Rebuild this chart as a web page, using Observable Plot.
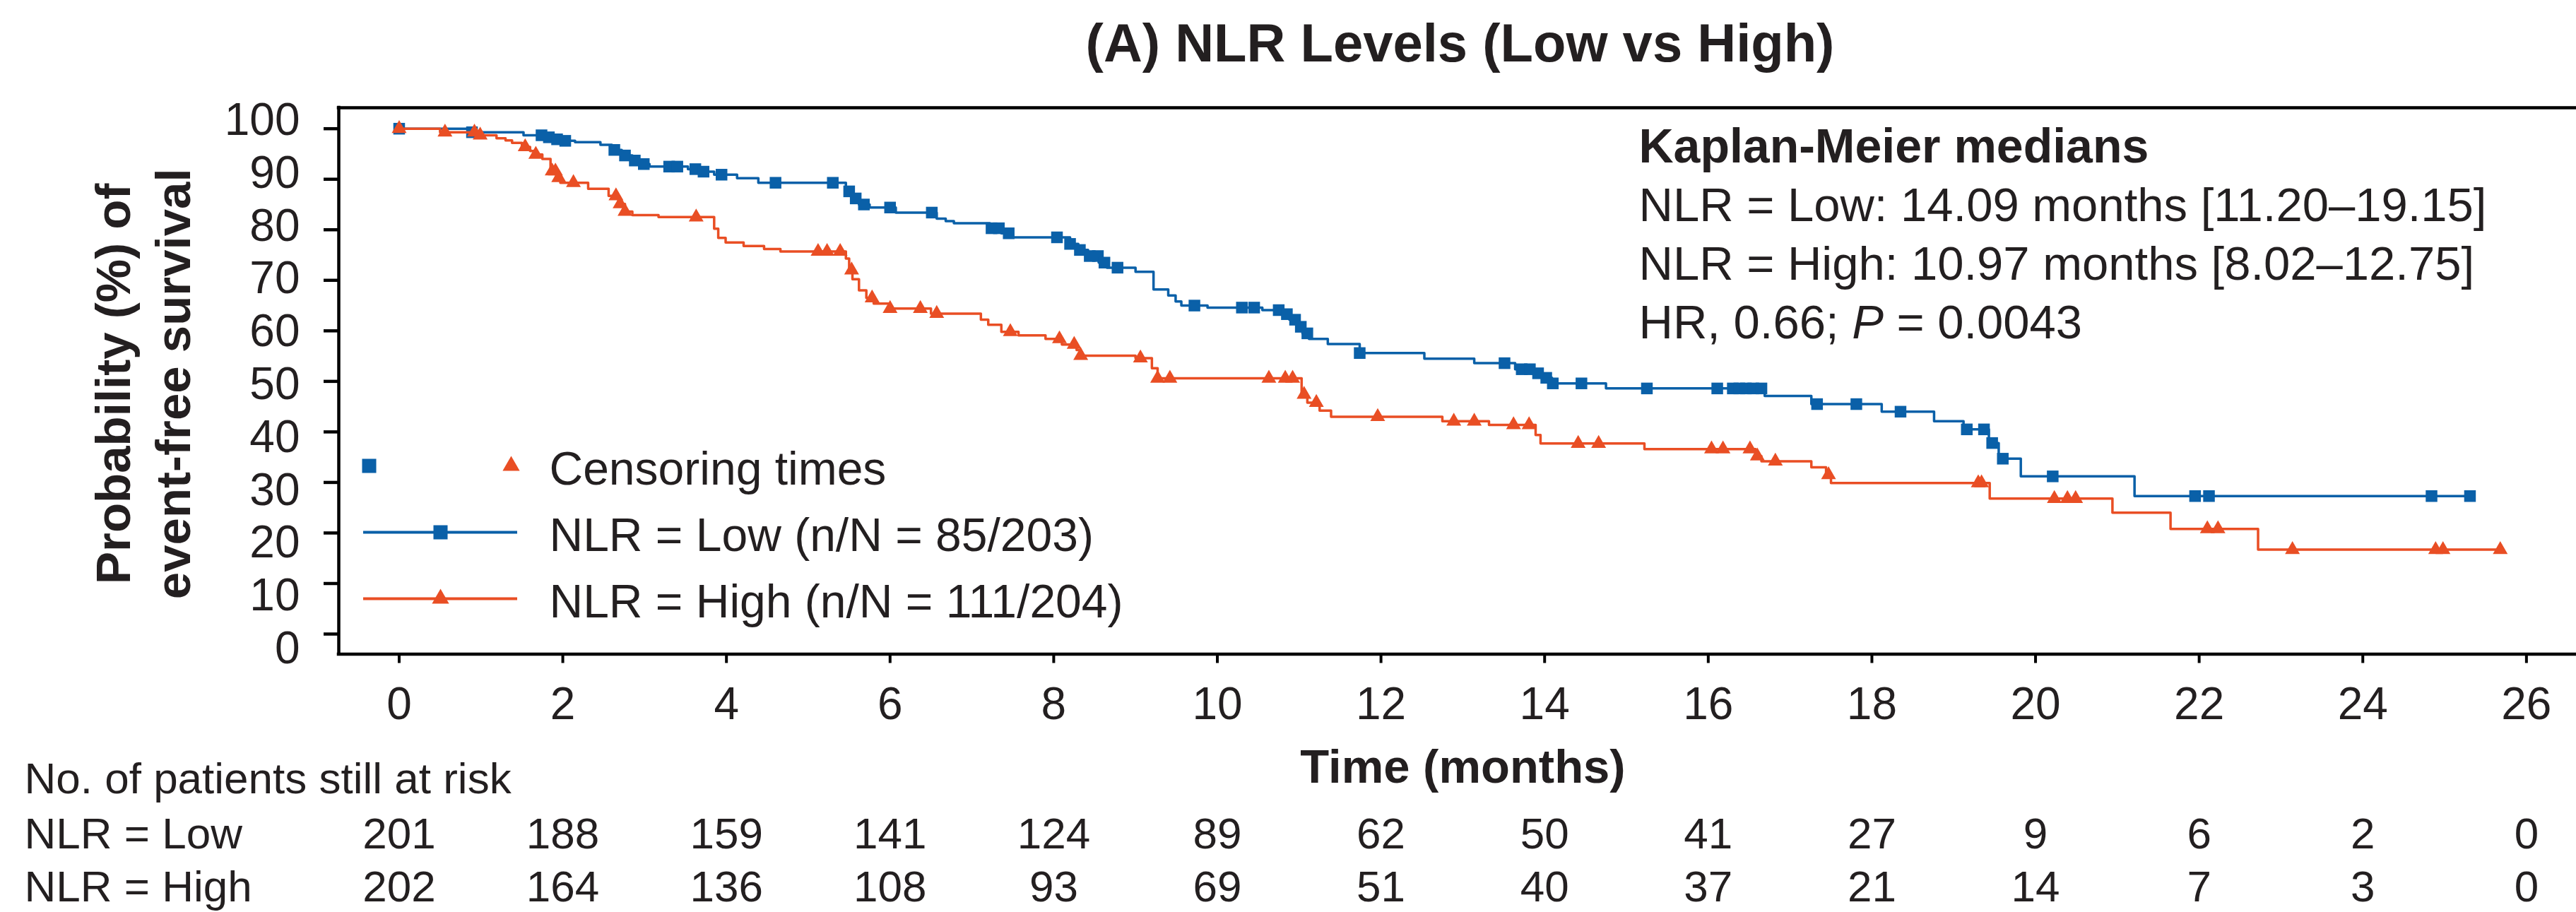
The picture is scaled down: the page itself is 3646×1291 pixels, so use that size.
<!DOCTYPE html>
<html>
<head>
<meta charset="utf-8">
<script src="https://cdn.jsdelivr.net/npm/d3@7"></script>
<script src="https://cdn.jsdelivr.net/npm/@observablehq/plot@0.6"></script>
<style>
  html, body { margin: 0; padding: 0; background: #ffffff; }
  #chart { position: relative; width: 3646px; height: 1291px; overflow: hidden; background: #ffffff; }
  #chart svg { position: absolute; left: 0; top: 0; }
</style>
</head>
<body>
<div id="chart"></div>
<script>
// ---------------- data ----------------
const titleText = "(A) NLR Levels (Low vs High)";
const xLabel = "Time (months)";
const yTitleLines = ["Probability (%) of", "event-free survival"];

const timeTicks = [0, 2, 4, 6, 8, 10, 12, 14, 16, 18, 20, 22, 24, 26];
const probTicks = [0, 10, 20, 30, 40, 50, 60, 70, 80, 90, 100];

// Kaplan-Meier step curve, NLR = Low (time in months, survival %)
const lowTime = [0, 0.85, 1.52, 1.75, 1.87, 2.0, 2.15, 2.46, 2.6, 2.72, 2.85, 2.97, 3.06, 3.53, 3.65, 3.85,
  4.13, 4.39, 5.46, 5.53, 5.62, 5.75, 6.07, 6.57, 6.68, 6.78, 7.22, 7.36, 7.5, 8.2, 8.3, 8.42, 8.55, 8.65,
  9.0, 9.22, 9.4, 9.49, 9.56, 9.88, 10.55, 10.78, 10.88, 10.97, 11.04, 11.12, 11.35, 11.74, 12.53, 13.14,
  13.64, 13.83, 13.98, 14.09, 14.75, 16.69, 17.26, 18.12, 18.76, 19.12, 19.43, 19.55, 19.82, 21.21, 25.31];
const lowSurv = [100, 99.3, 98.7, 98.3, 97.9, 97.6, 97.35, 96.8, 95.8, 94.7, 93.7, 93.0, 92.5, 92.0, 91.5, 90.9,
  90.2, 89.3, 87.6, 86.2, 85.0, 84.4, 83.4, 82.2, 81.7, 81.3, 80.3, 79.3, 78.5, 77.2, 76.0, 74.8, 73.5, 72.5,
  71.7, 68.2, 67.0, 65.8, 65.0, 64.6, 64.1, 63.3, 62.2, 60.8, 59.5, 58.4, 57.4, 55.6, 54.5, 53.6,
  52.4, 51.6, 50.7, 49.6, 48.6, 47.1, 45.5, 44.0, 42.1, 40.5, 37.8, 34.7, 31.2, 27.3, 27.3];
const lowCensor = [0, 0.89, 1.74, 1.83, 1.93, 2.03, 2.63, 2.76, 2.88, 2.99, 3.3, 3.4, 3.62, 3.72, 3.94, 4.6,
  5.3, 5.5, 5.58, 5.68, 6.0, 6.51, 7.24, 7.33, 7.45, 8.04, 8.2, 8.32, 8.44, 8.54, 8.62, 8.78, 9.72, 10.3,
  10.45, 10.75, 10.85, 10.95, 11.02, 11.1, 11.74, 13.51, 13.72, 13.82, 13.92, 14.02, 14.1, 14.45, 15.25,
  16.11, 16.3, 16.38, 16.46, 16.55, 16.65, 17.33, 17.81, 18.35, 19.16, 19.37, 19.47, 19.6, 20.21, 21.95,
  22.12, 24.84, 25.31];

// Kaplan-Meier step curve, NLR = High
const highTime = [0, 0.5, 0.95, 1.19, 1.3, 1.38, 1.5, 1.6, 1.67, 1.75, 1.85, 1.92, 1.97, 2.31, 2.56, 2.68,
  2.76, 2.85, 3.17, 3.85, 3.9, 3.99, 4.21, 4.46, 4.66, 5.46, 5.5, 5.54, 5.62, 5.71, 5.8, 6.0, 6.5, 7.11,
  7.2, 7.36, 7.57, 7.9, 8.1, 8.28, 8.33, 9.0, 9.2, 9.27, 11.03, 11.1, 11.25, 11.39, 12.75, 13.32, 13.89,
  13.95, 15.22, 16.58, 16.65, 17.26, 17.44, 17.5, 19.44, 20.94, 21.65, 22.72, 25.68];
const highSurv = [100, 99.3, 98.7, 98.1, 97.7, 97.2, 96.4, 95.6, 94.9, 94.0, 91.6, 90.3, 89.3, 88.1, 86.7, 85.1,
  83.6, 82.9, 82.5, 80.2, 78.4, 77.5, 76.8, 76.2, 75.7, 74.3, 72.0, 70.2, 68.0, 66.5, 65.4, 64.4, 63.4, 62.2,
  61.2, 59.8, 59.1, 58.4, 57.3, 56.2, 55.1, 54.6, 52.6, 50.6, 47.4, 45.8, 44.2, 43.0, 42.1, 41.4, 39.4,
  37.7, 36.6, 35.2, 34.2, 33.0, 31.5, 29.9, 26.8, 24.0, 20.8, 16.7, 16.7];
const highCensor = [0, 0.56, 0.92, 0.99, 1.54, 1.67, 1.87, 1.91, 1.95, 2.13, 2.65, 2.7, 2.76, 3.63, 5.12,
  5.23, 5.39, 5.53, 5.78, 6.0, 6.37, 6.57, 7.47, 8.07, 8.25, 8.33, 9.06, 9.27, 9.42, 10.63, 10.83, 10.92,
  11.06, 11.21, 11.96, 12.89, 13.14, 13.62, 13.81, 14.41, 14.66, 16.04, 16.18, 16.51, 16.6, 16.82, 17.47,
  19.3, 19.34, 20.23, 20.39, 20.49, 22.1, 22.23, 23.14, 24.89, 24.98, 25.68];

// Numbers at risk
const riskHeader = "No. of patients still at risk";
const riskLabels = ["NLR = Low", "NLR = High"];
const atRiskLow = [201, 188, 159, 141, 124, 89, 62, 50, 41, 27, 9, 6, 2, 0];
const atRiskHigh = [202, 164, 136, 108, 93, 69, 51, 40, 37, 21, 14, 7, 3, 0];

// Annotation
const annotLines = [
  "Kaplan-Meier medians",
  "NLR = Low: 14.09 months [11.20\u201319.15]",
  "NLR = High: 10.97 months [8.02\u201312.75]",
  "HR, 0.66; P = 0.0043"
];

// Legend
const legendKeys = ["censor", "low", "high"];
const legendLabels = ["Censoring times", "NLR = Low (n/N = 85/203)", "NLR = High (n/N = 111/204)"];

// ---------------- styling ----------------
const FONT = '"Liberation Sans", Arial, Helvetica, sans-serif';
const INK = "#231f20";
const BLUE = "#0a60a8";
const RED = "#e94e24";
const W = 3646, H = 1291;
const xDom = [-0.738, 26.61];
const yDom = [-3.98, 104.15];
const M = {left: 479, right: 0, top: 152, bottom: H - 925.5};

// ---------------- helpers ----------------
function stepValue(times, surv, t) {
  let v = surv[0];
  for (let i = 0; i < times.length; i++) {
    if (times[i] <= t + 1e-9) v = surv[i]; else break;
  }
  return v;
}
const lowCurve = lowTime.map((t, i) => ({t, s: lowSurv[i]}));
const highCurve = highTime.map((t, i) => ({t, s: highSurv[i]}));
const lowCens = lowCensor.map(t => ({t, s: stepValue(lowTime, lowSurv, t)}));
const highCens = highCensor.map(t => ({t, s: stepValue(highTime, highSurv, t)}));
const riskTable = [atRiskLow, atRiskHigh].map(counts => timeTicks.map((t, j) => ({t, n: counts[j]})));

// ---------------- main chart ----------------
const main = Plot.plot({
  width: W, height: H,
  marginLeft: M.left, marginRight: M.right, marginTop: M.top, marginBottom: M.bottom,
  style: {fontFamily: FONT, color: INK, background: "transparent", overflow: "visible"},
  x: {domain: xDom},
  y: {domain: yDom},
  marks: [
    // frame (left, bottom, top)
    Plot.ruleX([xDom[0]], {stroke: "#000", strokeWidth: 4.5, strokeLinecap: "square"}),
    Plot.ruleY([yDom[0], yDom[1]], {stroke: "#000", strokeWidth: 4.5, strokeLinecap: "square"}),
    // axes
    Plot.axisX(timeTicks, {tickSize: 13, tickPadding: 34, stroke: "#000", strokeWidth: 4, fill: INK, fontSize: 64,
      tickFormat: d => String(d), label: null}),
    Plot.axisY(probTicks, {tickSize: 21, stroke: "#000", strokeWidth: 4.5, fill: "none", label: null}),
    Plot.text(probTicks, {y: d => d * 1.0457 - 2.94, text: d => String(d), frameAnchor: "left", dx: -55,
      textAnchor: "end", lineAnchor: "middle", fontSize: 64, fill: INK}),
    // y title
    ...yTitleLines.map((line, i) => Plot.text([line], {text: d => d, frameAnchor: "left", dx: -296 + i * 85, dy: 4,
      rotate: -90, textAnchor: "middle", lineAnchor: "bottom", fontSize: 69, fontWeight: "bold", fill: INK})),
    // x title
    Plot.text([xLabel], {text: d => d, frameAnchor: "bottom", dx: 7.5, dy: 181.5, lineAnchor: "bottom",
      fontSize: 67, fontWeight: "bold", fill: INK}),
    // chart title
    Plot.text([titleText], {text: d => d, frameAnchor: "top", dx: 3.5, dy: -66, lineAnchor: "bottom",
      fontSize: 76, fontWeight: "bold", fill: INK}),
    // curves and censor marks
    Plot.line(lowCurve, {x: "t", y: "s", curve: "step-after", stroke: BLUE, strokeWidth: 3.5}),
    Plot.dot(lowCens, {x: "t", y: "s", symbol: "square", r: 9.3, fill: BLUE}),
    Plot.line(highCurve, {x: "t", y: "s", curve: "step-after", stroke: RED, strokeWidth: 3.5}),
    Plot.dot(highCens, {x: "t", y: "s", symbol: "triangle", r: 7.8, fill: RED}),
    // annotation
    ...annotLines.map((line, i) => Plot.text([line], {text: d => d, frameAnchor: "top-left", dx: 1840, dy: 77 + i * 83,
      textAnchor: "start", lineAnchor: "bottom", fontSize: i === 0 ? 68 : 67, fontWeight: i === 0 ? "bold" : "normal", fill: INK})),
    // numbers at risk
    Plot.text([riskHeader], {text: d => d, frameAnchor: "bottom-left", dx: -445, dy: 196.5, textAnchor: "start",
      lineAnchor: "bottom", fontSize: 62, fill: INK}),
    ...riskLabels.map((lab, i) => Plot.text([lab], {text: d => d, frameAnchor: "bottom-left", dx: -445, dy: 275 + i * 74.5,
      textAnchor: "start", lineAnchor: "bottom", fontSize: 62, fill: INK})),
    ...riskTable.map((row, i) => Plot.text(row, {x: "t", text: "n", frameAnchor: "bottom", dy: 275 + i * 74.5,
      textAnchor: "middle", lineAnchor: "bottom", fontSize: 62, fill: INK}))
  ]
});

// italic P in the statistics line
d3.select(main).selectAll("text").filter(function () { return this.textContent === annotLines[3]; })
  .each(function () {
    const t = d3.select(this);
    t.text(null);
    t.append("tspan").text("HR, 0.66; ");
    t.append("tspan").attr("font-style", "italic").text("P");
    t.append("tspan").text(" = 0.0043");
  });

// ---------------- legend (its own small Plot, overlaid inside the frame) ----------------
const LEG = {left: 480, top: 600, w: 1300, h: 300};
const legendRows = legendKeys.map((key, i) => ({key, label: legendLabels[i]}));
const legend = Plot.plot({
  width: LEG.w, height: LEG.h,
  marginLeft: 0, marginRight: 0, marginTop: 0, marginBottom: 0,
  style: {fontFamily: FONT, color: INK, background: "transparent", overflow: "visible"},
  x: {domain: [0, 1], range: [34, 252], axis: null},
  y: {type: "point", domain: legendKeys, range: [58, 247], padding: 0, axis: null},
  marks: [
    Plot.ruleY(legendRows.slice(1), {y: "key", x1: 0, x2: 1, stroke: d => d.key === "low" ? BLUE : RED, strokeWidth: 4}),
    Plot.dot([legendRows[1]], {x: 0.5, y: "key", symbol: "square", r: 11.3, fill: BLUE}),
    Plot.dot([legendRows[2]], {x: 0.5, y: "key", symbol: "triangle", r: 9, fill: RED}),
    Plot.dot([legendRows[0]], {x: 0, y: "key", dx: 8, symbol: "square", r: 11.3, fill: BLUE}),
    Plot.dot([legendRows[0]], {x: 1, y: "key", dx: -9, symbol: "triangle", r: 9, fill: RED}),
    Plot.text(legendRows, {x: 1, y: "key", text: "label", dx: 45, dy: 26.5, textAnchor: "start", lineAnchor: "bottom",
      fontSize: 66, fill: INK})
  ]
});
legend.style.left = LEG.left + "px";
legend.style.top = LEG.top + "px";

const chart = document.getElementById("chart");
chart.appendChild(main);
chart.appendChild(legend);
</script>
</body>
</html>
